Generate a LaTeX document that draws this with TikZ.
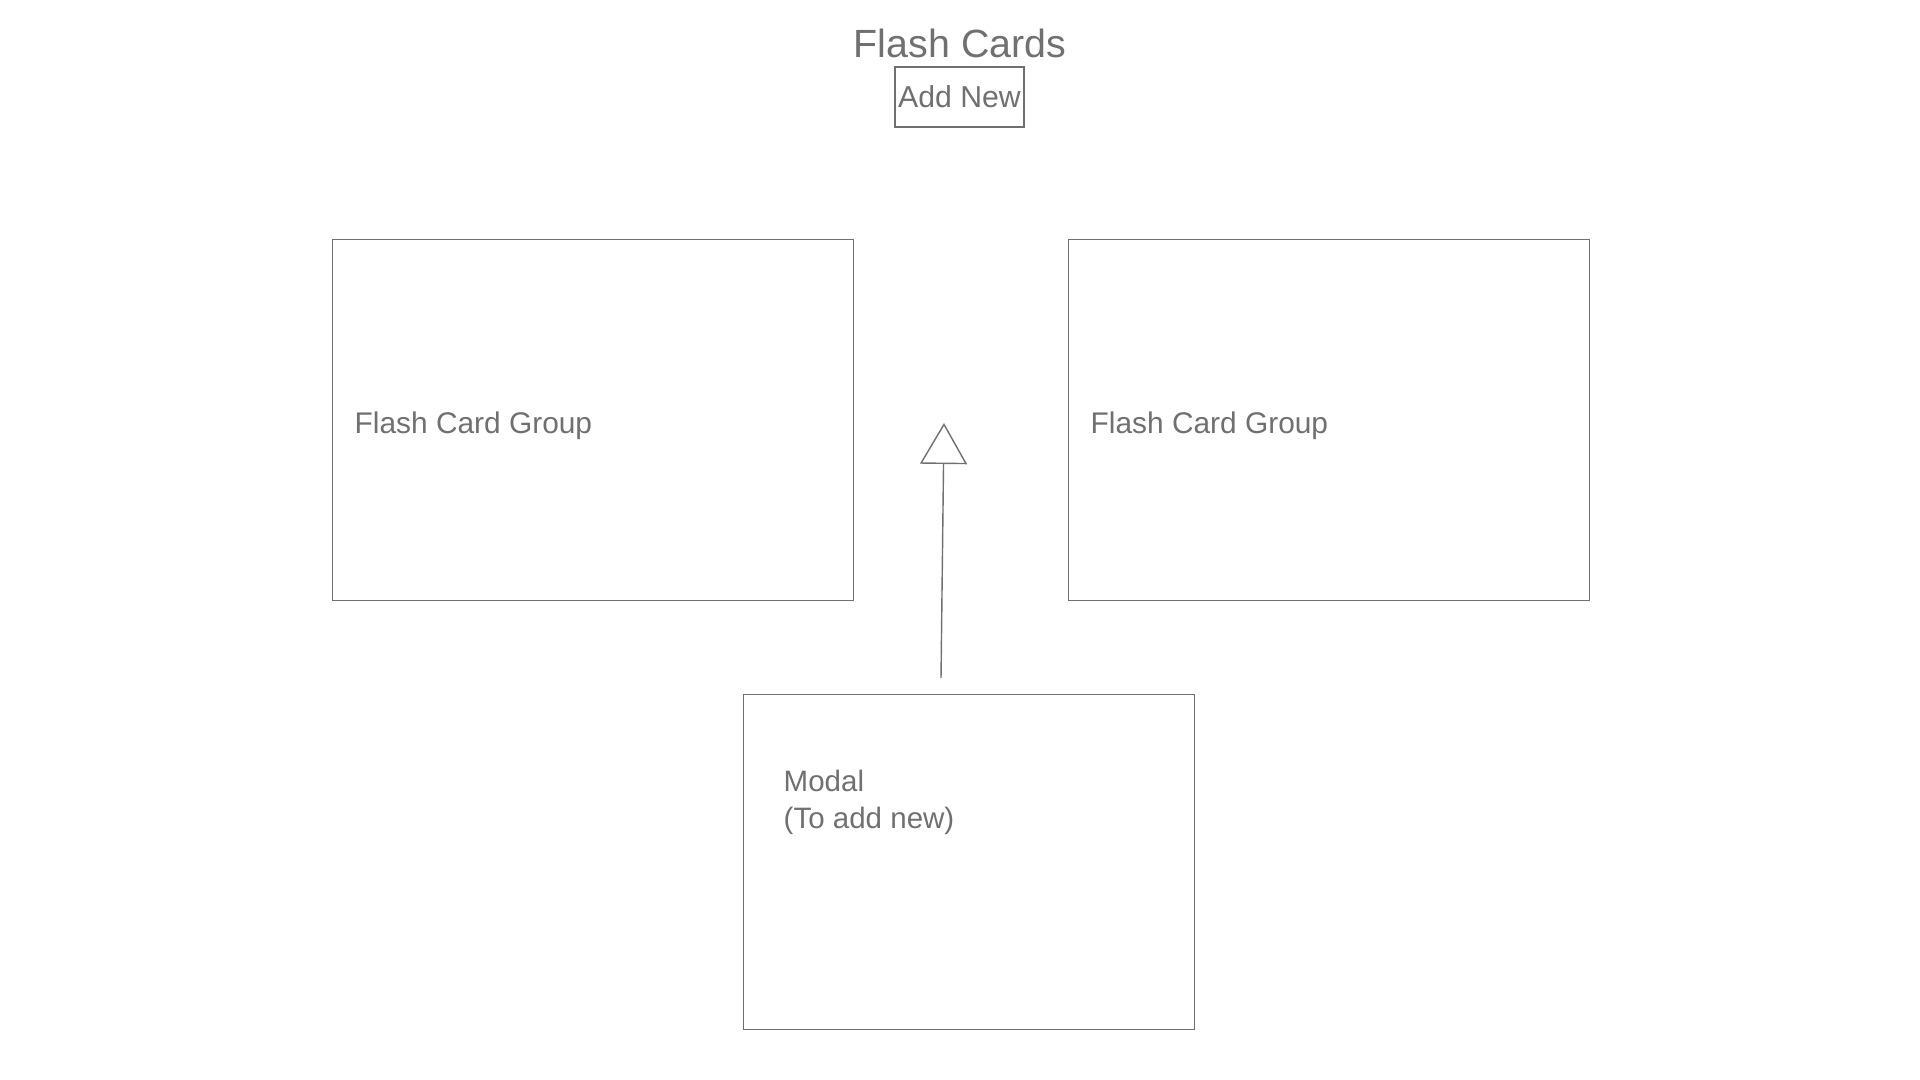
\documentclass[tikz,border=0pt]{standalone}
\usepackage{fontspec}
\setmainfont{Liberation Sans}
\usepackage{xcolor}
\usetikzlibrary{calc, positioning, arrows.meta}
\definecolor{wire}{HTML}{707070}
\begin{document}
\begin{tikzpicture}[box/.style={draw=wire, line width=0.4pt, inner sep=0pt, anchor=north west}, lbl/.style={text=wire, inner sep=0pt, anchor=base west, align=left}]
\useasboundingbox (0,0) rectangle (19.2,-10.8);
\node[text=wire, font=\fontsize{11.2pt}{13pt}\selectfont, anchor=base, inner sep=0pt] (title) at (9.60,-0.58) {Flash Cards};
\node[draw=wire, line width=0.3pt, text=wire, font=\fontsize{8.6pt}{10pt}\selectfont, minimum width=1.29cm, minimum height=0.60cm, inner sep=0pt] (add) at (9.595,-0.97) {Add New};
\node[box, minimum width=5.21cm, minimum height=3.61cm] (left) at (3.32,-2.39) {};
\node[box, minimum width=5.21cm, minimum height=3.61cm] (right) at (10.68,-2.39) {};
\node[box, minimum width=4.51cm, minimum height=3.35cm] (modal) at (7.43,-6.94) {};
\node[lbl, font=\fontsize{8.5pt}{10pt}\selectfont] (lefttxt) at (3.54,-4.34) {Flash Card Group};
\node[lbl, font=\fontsize{8.5pt}{10pt}\selectfont] (righttxt) at (10.90,-4.34) {Flash Card Group};
\node[lbl, font=\fontsize{8.4pt}{10.4pt}\selectfont] (modaltxt) at (7.83,-8.28) {Modal\\(To add new)};
\coordinate (tip) at (9.44,-4.23);
\coordinate (tail) at (9.41,-6.78);
\draw[wire, line width=0.4pt, -{Triangle[open, length=0.41cm, width=0.47cm]}] (tail) -- (tip);
\end{tikzpicture}
\end{document}
